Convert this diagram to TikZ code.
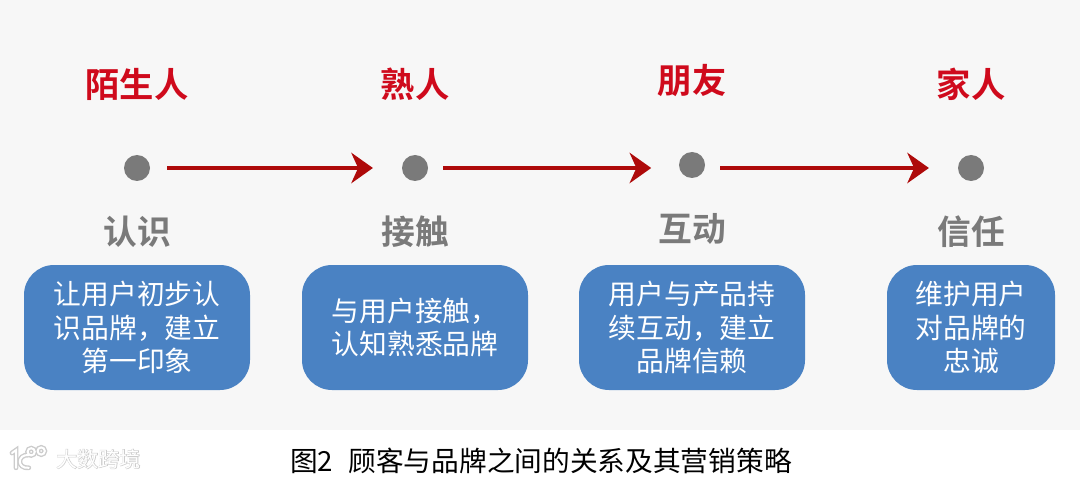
\documentclass[tikz,border=0pt]{standalone}
\usepackage{fontspec}
\usepackage{tikz}
\usetikzlibrary{positioning,arrows.meta}
\newfontfamily\cjk{Noto Sans CJK SC}
\newfontfamily\cjkbold{Noto Sans CJK SC Bold}
\newfontfamily\cjkhalo[FakeBold=4]{Noto Sans CJK SC}
\definecolor{panelgray}{HTML}{F7F7F7}
\definecolor{dotgray}{HTML}{7A7A7A}
\definecolor{titlered}{HTML}{CF0A1C}
\definecolor{arrowred}{HTML}{AE0A0A}
\definecolor{boxblue}{HTML}{4A82C3}
\begin{document}
\begin{tikzpicture}[
  stage/.style={circle,fill=dotgray,minimum size=6.5mm,inner sep=0pt},
  role/.style={text=titlered,font=\cjkbold\fontsize{24.4}{28}\selectfont},
  phase/.style={text=dotgray,font=\cjkbold\fontsize{24}{28}\selectfont},
  card/.style={rounded corners=7.5mm,fill=boxblue,text=white,minimum height=31.25mm,
    inner sep=0pt,align=center,font=\cjk\fontsize{19.75}{23.7}\selectfont},
  link/.style={draw=arrowred,line width=0.9mm,-{Stealth[length=5.4mm,width=7.6mm,inset=1.7mm]}},
  halo/.style={draw=gray!40,line width=1.2mm,line cap=round},
  core/.style={draw=white,line width=0.5mm,line cap=round}
]
  \useasboundingbox (0,0) rectangle (27,11.975);
  \fill[panelgray] (0,1.225) rectangle (27,11.975);

  \node[stage] (D1) at (3.425,7.775) {};
  \node[stage] (D2) at (10.375,7.775) {};
  \node[stage] (D3) at (17.3,7.85) {};
  \node[stage] (D4) at (24.275,7.775) {};
  \draw[link,shorten <=4.2mm,shorten >=7.2mm] (D1)--(D2);
  \draw[link,shorten <=3.7mm,shorten >=10.2mm] (D2)--(D2 -| D3);
  \draw[link,shorten <=7mm,shorten >=7.2mm] (D3 |- D4)--(D4);

  \node[role] (R1) at (3.425,9.875) {陌生人};
  \node[role] (R2) at (10.375,9.875) {熟人};
  \node[role] (R3) at (17.3,9.95) {朋友};
  \node[role] (R4) at (24.275,9.875) {家人};

  \node[phase] (P1) at (3.425,6.175) {认识};
  \node[phase] (P2) at (10.375,6.175) {接触};
  \node[phase] (P3) at (17.3,6.25) {互动};
  \node[phase] (P4) at (24.275,6.175) {信任};

  \node[card,minimum width=56.5mm] (C1) at (3.425,3.7875) {让用户初步认\\识品牌，建立\\第一印象};
  \node[card,minimum width=56.5mm] (C2) at (10.375,3.7875) {与用户接触，\\认知熟悉品牌};
  \node[card,minimum width=56.5mm] (C3) at (17.3,3.7875) {用户与产品持\\续互动，建立\\品牌信赖};
  \node[card,minimum width=42mm] (C4) at (24.275,3.7875) {维护用户\\对品牌的\\忠诚};

  % caption
  \node[anchor=west,inner sep=0pt,font=\cjk\fontsize{19.7}{23.5}\selectfont] (cap) at (7.25,0.45) {图2\hspace{0.55em}顾客与品牌之间的关系及其营销策略};

  % watermark
  \foreach \sty in {halo,core}{
    \draw[\sty] (0.3,0.65) -- (0.4,0.72) -- (0.4,0.28);
    \draw[\sty] (0.72,0.6) .. controls (0.42,0.62) and (0.42,0.25) .. (0.72,0.28);
    \draw[\sty] (0.78,0.68) circle (0.09);
    \draw[\sty] (1.03,0.7) circle (0.09);
  }
  \node[anchor=west,inner sep=0pt,text=gray!40,font=\cjkhalo\fontsize{15}{18}\selectfont] (markhalo) at (1.4,0.5) {大数跨境};
  \node[anchor=west,inner sep=0pt,text=white,font=\cjk\fontsize{15}{18}\selectfont] (mark) at (1.4,0.5) {大数跨境};
\end{tikzpicture}
\end{document}
